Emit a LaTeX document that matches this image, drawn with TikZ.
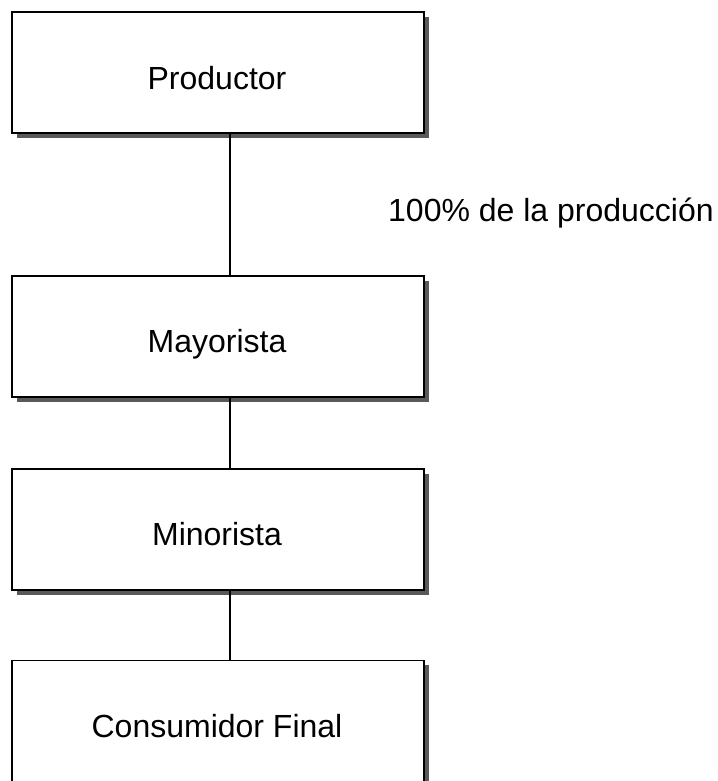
\documentclass[tikz,border=0pt]{standalone}
\usepackage{fontspec}
\setmainfont{Liberation Sans}
\usetikzlibrary{shadows}
\begin{document}
\begin{tikzpicture}[x=1pt,y=1pt,
  chainbox/.style={draw=black, line width=1.5pt, fill=white, rectangle,
    minimum width=412pt, minimum height=121pt, inner sep=0pt,
    drop shadow={shadow xshift=5pt, shadow yshift=-5pt, fill=black!65, opacity=1}},
  boxtext/.style={font=\fontsize{32}{38}\selectfont, inner sep=0pt, anchor=base},
  link/.style={draw=black, line width=1.2pt}]
\useasboundingbox[fill=white] (0,0) rectangle (717,781);
\node[chainbox] (prod) at (218,708.5) {};
\node[chainbox] (may)  at (218,444.5) {};
\node[chainbox] (min)  at (218,251.5) {};
\node[chainbox] (cons) at (218,60) {};
\node[boxtext] (tprod) at (217,691) {Productor};
\node[boxtext] (tmay)  at (217,428) {Mayorista};
\node[boxtext] (tmin)  at (217,235) {Minorista};
\node[boxtext] (tcons) at (217,43) {Consumidor Final};
\node[boxtext, anchor=base west] (lbl) at (388,559) {100\% de la producción};
\draw[link] (prod.south -| 230,0) -- (may.north -| 230,0);
\draw[link] (may.south -| 230,0) -- (min.north -| 230,0);
\draw[link] (min.south -| 230,0) -- (cons.north -| 230,0);
\end{tikzpicture}
\end{document}
